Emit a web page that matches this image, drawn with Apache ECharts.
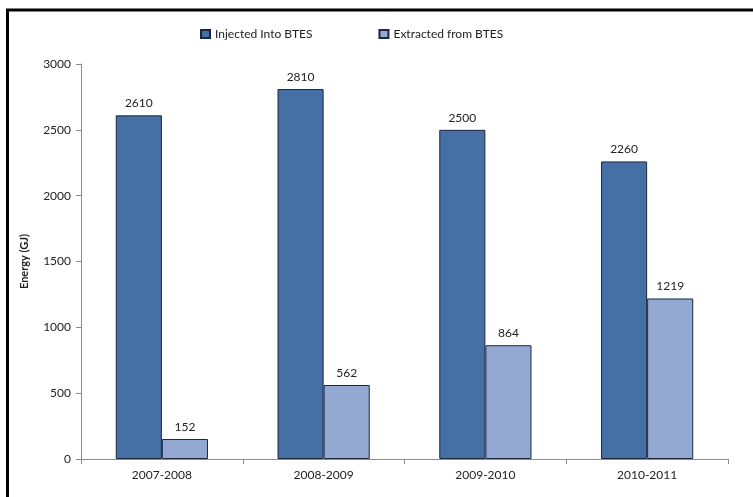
<!DOCTYPE html>
<html>
<head>
<meta charset="utf-8">
<script src="https://cdn.jsdelivr.net/npm/echarts@6/dist/echarts.min.js"></script>
<style>html,body{margin:0;padding:0;background:#fff}#c{width:753px;height:497px}</style>
</head>
<body>
<div id="c"></div>
<script>
const categories = ['2007-2008', '2008-2009', '2009-2010', '2010-2011'];
const injected = [2610, 2810, 2500, 2260];
const extracted = [152, 562, 864, 1219];
const seriesNames = ['Injected Into BTES', 'Extracted from BTES'];

const font = 'Lato, "Open Sans", sans-serif';
const chart = echarts.init(document.getElementById('c'), null, {renderer: 'canvas'});
chart.setOption({
  backgroundColor: '#fff',
  animation: false,
  textStyle: {fontFamily: font},
  graphic: [{
    type: 'rect', silent: true, z: 100,
    shape: {x: 7.5, y: 10, width: 900, height: 700},
    style: {fill: 'none', stroke: '#000', lineWidth: 3}
  }],
  legend: {
    top: 23, left: 195, itemWidth: 9, itemHeight: 8, itemGap: 66, icon: 'rect',
    textStyle: {fontSize: 12, color: '#222', fontFamily: font},
    data: seriesNames
  },
  grid: {left: 81, right: 25, top: 64, bottom: 38},
  xAxis: {
    type: 'category', data: categories,
    axisLine: {lineStyle: {color: '#8c8c8c', width: 1}},
    axisTick: {show: true, length: 5, lineStyle: {color: '#8c8c8c'}},
    axisLabel: {fontSize: 12, color: '#222', margin: 10, fontFamily: font}
  },
  yAxis: {
    type: 'value', min: 0, max: 3000, interval: 500,
    name: 'Energy (GJ)', nameLocation: 'middle', nameGap: 51, nameRotate: 90,
    nameTextStyle: {fontSize: 11, fontWeight: 'bold', color: '#222', fontFamily: font},
    axisLine: {show: true, lineStyle: {color: '#8c8c8c', width: 1}},
    axisTick: {show: true, length: 5, lineStyle: {color: '#8c8c8c'}},
    splitLine: {show: false},
    axisLabel: {fontSize: 12, color: '#222', margin: 10, fontFamily: font, formatter: v => String(v)}
  },
  series: [
    {
      name: seriesNames[0], type: 'bar', data: injected,
      barGap: '0%', barCategoryGap: '43%',
      itemStyle: {color: '#4570a6', borderColor: '#1c2640', borderWidth: 1},
      label: {show: true, position: 'top', fontSize: 12, color: '#222', distance: 6, fontFamily: font}
    },
    {
      name: seriesNames[1], type: 'bar', data: extracted,
      itemStyle: {color: '#94a9d2', borderColor: '#1c2640', borderWidth: 1},
      label: {show: true, position: 'top', fontSize: 12, color: '#222', distance: 6, fontFamily: font}
    }
  ]
});
</script>
</body>
</html>
